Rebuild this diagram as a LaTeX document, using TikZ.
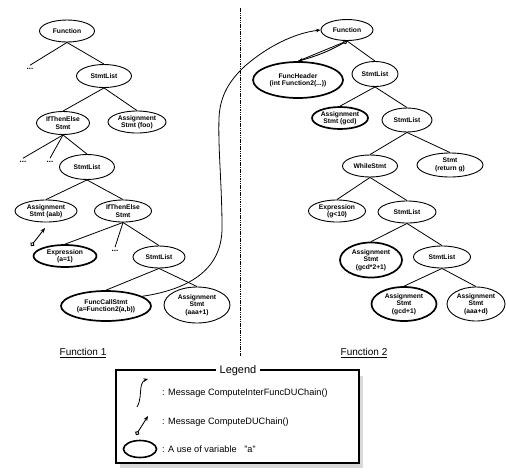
\documentclass[tikz,border=0pt]{standalone}
\usepackage{fontspec}
\setmainfont{Liberation Sans}
\usetikzlibrary{shapes.geometric,arrows.meta}
\tikzset{
  nd/.style={ellipse, draw, line width=0.9pt, inner sep=0pt, align=center,
     font=\fontsize{6.7}{7.4}\selectfont\bfseries},
  nthick/.style={nd, line width=1.7pt},
  edge/.style={line width=0.8pt},
  dots/.style={inner sep=3pt, font=\fontsize{8}{8}\selectfont\bfseries},
  duarrow/.style={line width=0.9pt, {Circle[open,length=4.5pt,width=4.5pt]}-{Stealth[length=5pt,width=4pt]}},
  iarrow/.style={line width=0.8pt, -{Stealth[length=4.5pt,width=3.5pt]}},
  lgtext/.style={anchor=west, inner sep=0pt, font=\fontsize{9.2}{10}\selectfont},
  ftitle/.style={font=\fontsize{10}{11}\selectfont}
}
\begin{document}
\begin{tikzpicture}[x=1pt,y=-1pt]
\useasboundingbox (0,0) rectangle (506,472);
% ---------- Function 1 ----------
\node[nd, minimum width=55pt, minimum height=22pt] (f1) at (67,31) {Function};
\node[dots] (d1) at (30,69) {...};
\node[nd, minimum width=55pt, minimum height=23pt] (sl1) at (104,76) {StmtList};
\node[nd, minimum width=53pt, minimum height=23pt] (ite1) at (63,123) {IfThenElse\\Stmt};
\node[nd, minimum width=58pt, minimum height=22pt] (asfoo) at (137,122) {Assignment\\Stmt (foo)};
\node[dots] (d2) at (23,162) {...};
\node[dots] (d3) at (50,162) {...};
\node[nd, minimum width=55pt, minimum height=25pt] (sl2) at (87,167) {StmtList};
\node[nd, minimum width=62pt, minimum height=22pt] (asaab) at (46,211) {Assignment\\Stmt (aab)};
\node[nd, minimum width=57pt, minimum height=22pt] (ite2) at (123,211) {IfThenElse\\Stmt};
\node[nthick, minimum width=63pt, minimum height=22pt] (ex1) at (65,256) {Expression\\(a=1)};
\node[dots] (d4) at (115,251) {...};
\node[nd, minimum width=52pt, minimum height=22pt] (sl3) at (159,257) {StmtList};
\node[nthick, minimum width=90pt, minimum height=30pt] (fc) at (106,306) {FuncCallStmt\\(a=Function2(a,b))};
\node[nd, minimum width=66pt, minimum height=36pt] (asaaa) at (197,305) {Assignment\\Stmt\\(aaa+1)};
\draw[edge] (f1.south) -- (d1.north);
\draw[edge] (f1.south) -- (sl1.north);
\draw[edge] (sl1.south) -- (ite1.north);
\draw[edge] (sl1.south) -- (asfoo.north);
\draw[edge] (ite1.south) -- (d2.north);
\draw[edge] (ite1.south) -- (d3.north);
\draw[edge] (ite1.south) -- (sl2.north);
\draw[edge] (sl2.south) -- (asaab.north);
\draw[edge] (sl2.south) -- (ite2.north);
\draw[edge] (ite2.south) -- (ex1.north);
\draw[edge] (ite2.south) -- (d4.north);
\draw[edge] (ite2.south) -- (sl3.north);
\draw[edge] (sl3.south) -- (fc.north);
\draw[edge] (sl3.south) -- (asaaa.north);
\coordinate (du1s) at (31,246);
\coordinate (du1e) at (45,228);
\draw[duarrow] (du1s) -- (du1e);
% ---------- divider ----------
\coordinate (divt) at (240,8);
\coordinate (divb) at (240,356);
\draw[line width=0.8pt, dash pattern=on 1.5pt off 0.8pt] (divt) -- (divb);
% ---------- Function 2 ----------
\node[nd, minimum width=52pt, minimum height=21pt] (f2) at (347,30) {Function};
\node[nthick, minimum width=90pt, minimum height=36pt] (fh) at (298,80) {FuncHeader\\(int Function2(...))};
\node[nd, minimum width=46pt, minimum height=25pt] (rsl1) at (375,74) {StmtList};
\node[nthick, minimum width=56pt, minimum height=22pt] (asgcd) at (340,118) {Assignment\\Stmt (gcd)};
\node[nd, minimum width=50pt, minimum height=24pt] (rsl2) at (407,120) {StmtList};
\node[nd, minimum width=55pt, minimum height=22pt] (wh) at (370,166) {WhileStmt};
\node[nd, minimum width=66pt, minimum height=24pt] (ret) at (450,165) {Stmt\\(return g)};
\node[nd, minimum width=57pt, minimum height=22pt] (exg) at (337,211) {Expression\\(g<10)};
\node[nd, minimum width=58pt, minimum height=22pt] (rsl3) at (407,212) {StmtList};
\node[nthick, minimum width=62pt, minimum height=35pt] (asgcd2) at (371,260) {Assignment\\Stmt\\(gcd*2+1)};
\node[nd, minimum width=57pt, minimum height=22pt] (rsl4) at (442,257) {StmtList};
\node[nthick, minimum width=65pt, minimum height=34pt] (asgcd3) at (404,304) {Assignment\\Stmt\\(gcd+1)};
\node[nd, minimum width=58pt, minimum height=34pt] (asaad) at (476,304) {Assignment\\Stmt\\(aaa+d)};
\draw[edge] (f2.south) -- (fh.north);
\draw[duarrow] (f2.south) to[bend left=7] (fh.north);
\draw[edge] (f2.south) -- (rsl1.north);
\draw[edge] (rsl1.south) -- (asgcd.north);
\draw[edge] (rsl1.south) -- (rsl2.north);
\draw[edge] (rsl2.south) -- (wh.north);
\draw[edge] (rsl2.south) -- (ret.north);
\draw[edge] (wh.south) -- (exg.north);
\draw[edge] (wh.south) -- (rsl3.north);
\draw[edge] (rsl3.south) -- (asgcd2.north);
\draw[edge] (rsl3.south) -- (rsl4.north);
\draw[edge] (rsl4.south) -- (asgcd3.north);
\draw[edge] (rsl4.south) -- (asaad.north);
% ---------- inter-function message ----------
\draw[iarrow] (fc.15) .. controls (185,290) and (222,272) .. (222,228)
   .. controls (222,185) and (218,150) .. (219,118)
   .. controls (220,95) and (230,80) .. (245,66)
   .. controls (268,46) and (295,33) .. (f2.west);
% ---------- titles ----------
\node[ftitle] (t1) at (83,353) {\underline{Function 1}};
\node[ftitle] (t2) at (364,353) {\underline{Function 2}};
% ---------- legend ----------
\fill[gray!30] (120,464) rectangle (363,467.5);
\fill[gray!30] (359.5,376) rectangle (363,467.5);
\draw[line width=1.1pt] (116,370) rectangle (359,463);
\node[fill=white, inner xsep=4pt, inner ysep=1pt, font=\fontsize{11}{12}\selectfont] (lg) at (238,371) {Legend};
\coordinate (l1s) at (137,407);
\coordinate (l1e) at (148,379);
\draw[iarrow] (l1s) .. controls (141,400) and (140,393) .. (141,387)
   .. controls (142,382) and (144,380) .. (l1e);
\node[lgtext] (lt1) at (162,393) {: Message ComputeInterFuncDUChain()};
\coordinate (l2s) at (136,435);
\coordinate (l2e) at (148,416);
\draw[duarrow] (l2s) -- (l2e);
\node[lgtext] (lt2) at (162,422) {: Message ComputeDUChain()};
\node[ellipse, draw, line width=1.6pt, minimum width=33pt, minimum height=17pt, inner sep=0pt] (le) at (140,449) {};
\node[lgtext] (lt3) at (162,449) {: A use of variable \ \ "a"};
\end{tikzpicture}
\end{document}
